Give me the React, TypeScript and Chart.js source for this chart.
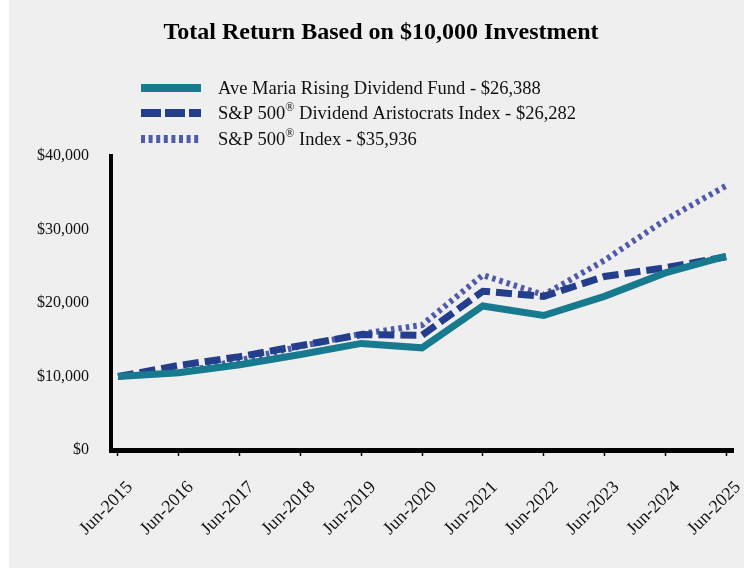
import React, { useEffect, useRef } from "react";
import { Chart, registerables } from "chart.js";

Chart.register(...registerables);

const categories = ["Jun-2015", "Jun-2016", "Jun-2017", "Jun-2018", "Jun-2019", "Jun-2020", "Jun-2021", "Jun-2022", "Jun-2023", "Jun-2024", "Jun-2025"];
const fundValues = [10000, 10500, 11600, 13000, 14500, 13900, 19600, 18300, 20900, 24100, 26388];
const aristocratsValues = [10000, 11500, 12700, 14200, 15700, 15600, 21600, 20900, 23600, 24800, 26282];
const sp500Values = [10000, 10500, 12200, 14100, 15800, 17000, 23800, 21100, 25800, 31300, 35936];
const seriesNames = [
  "Ave Maria Rising Dividend Fund - $26,388",
  "S&P 500® Dividend Aristocrats Index - $26,282",
  "S&P 500® Index - $35,936",
];
const yTicks = [0, 10000, 20000, 30000, 40000];
const titleText = "Total Return Based on $10,000 Investment";

const FONT = '"Liberation Serif", "Times New Roman", serif';
const TEAL = "#177a8f";
const NAVY = "#233f8c";
const PERI = "#4f5aa8";

const styles = [
  { color: TEAL, width: 7, dash: [] as number[], legendDash: [] as number[] },
  { color: NAVY, width: 7, dash: [16, 6], legendDash: [20, 4] },
  { color: PERI, width: 6, dash: [3.5, 4], legendDash: [4, 3.6] },
];

const toPoints = (vals: number[]) => vals.map((v, i) => ({ x: i, y: v }));

const overlayPlugin = {
  id: "overlay",
  afterDraw(chart: any) {
    const ctx = chart.ctx as CanvasRenderingContext2D;
    ctx.save();
    // title
    ctx.fillStyle = "#000";
    ctx.font = `bold 24px ${FONT}`;
    ctx.textAlign = "center";
    ctx.textBaseline = "middle";
    ctx.fillText(titleText, 372, 33);
    // legend
    const rows = [89, 114, 140];
    seriesNames.forEach((name, i) => {
      const st = styles[i];
      const y = rows[i];
      ctx.beginPath();
      ctx.strokeStyle = st.color;
      ctx.lineWidth = 8;
      ctx.lineCap = "butt";
      ctx.setLineDash(st.legendDash);
      ctx.moveTo(132, y - 1);
      ctx.lineTo(192, y - 1);
      ctx.stroke();
      ctx.setLineDash([]);
      ctx.fillStyle = "#111";
      ctx.textAlign = "left";
      ctx.textBaseline = "middle";
      const parts = name.split("®");
      let x = 209;
      parts.forEach((p, k) => {
        ctx.font = `18.5px ${FONT}`;
        ctx.fillText(p, x, y);
        x += ctx.measureText(p).width;
        if (k < parts.length - 1) {
          ctx.font = `12px ${FONT}`;
          ctx.fillText("®", x, y - 6);
          x += ctx.measureText("®").width;
        }
      });
    });
    ctx.restore();
  },
};

export default function App() {
  const ref = useRef<HTMLCanvasElement | null>(null);
  useEffect(() => {
    if (!ref.current) return;
    const allValues = [fundValues, aristocratsValues, sp500Values];
    const chart = new Chart(ref.current, {
      type: "line",
      data: {
        datasets: allValues.map((vals, i) => ({
          label: seriesNames[i],
          data: toPoints(vals),
          borderColor: styles[i].color,
          backgroundColor: styles[i].color,
          borderWidth: styles[i].width,
          borderDash: styles[i].dash,
          borderCapStyle: "butt",
          borderJoinStyle: "miter",
          pointRadius: 0,
          tension: 0,
          fill: false,
        })),
      },
      options: {
        responsive: false,
        animation: false,
        layout: { padding: { top: 156, right: 11, left: 0, bottom: 0 } },
        plugins: {
          legend: { display: false },
          title: { display: false },
          tooltip: { enabled: false },
        },
        scales: {
          x: {
            type: "linear",
            min: -0.115,
            max: 10.115,
            afterFit: (s: any) => {
              s.height = 118;
              s.paddingLeft = 0;
              s.paddingRight = 0;
            },
            afterBuildTicks: (s: any) => {
              s.ticks = categories.map((_, i) => ({ value: i }));
            },
            ticks: {
              callback: (v: any) => categories[Math.round(Number(v))] ?? "",
              minRotation: 45,
              maxRotation: 45,
              autoSkip: false,
              color: "#111",
              font: { family: FONT, size: 18 },
              padding: 21,
              labelOffset: 12,
            },
            grid: {
              display: true,
              drawOnChartArea: false,
              drawTicks: true,
              tickLength: 6,
              tickWidth: 1.5,
              tickColor: "#000",
            },
            border: { display: true, color: "#000", width: 5 },
          },
          y: {
            min: 0,
            max: 40000,
            afterFit: (s: any) => {
              s.width = 102;
              s.paddingTop = 0;
              s.paddingBottom = 0;
            },
            afterBuildTicks: (s: any) => {
              s.ticks = yTicks.map((v) => ({ value: v }));
            },
            ticks: {
              callback: (v: any) => "$" + Number(v).toLocaleString("en-US"),
              color: "#111",
              font: { family: FONT, size: 16 },
              padding: 22,
            },
            grid: { display: false, drawTicks: false },
            border: { display: true, color: "#000", width: 4 },
          },
        },
      },
      plugins: [overlayPlugin],
    });
    return () => chart.destroy();
  }, []);
  return (
    <div
      style={{
        position: "absolute",
        left: 9,
        top: 0,
        width: 735,
        height: 568,
        background: "#efefef",
      }}
    >
      <canvas ref={ref} width={735} height={568} style={{ display: "block", width: 735, height: 568 }} />
    </div>
  );
}
